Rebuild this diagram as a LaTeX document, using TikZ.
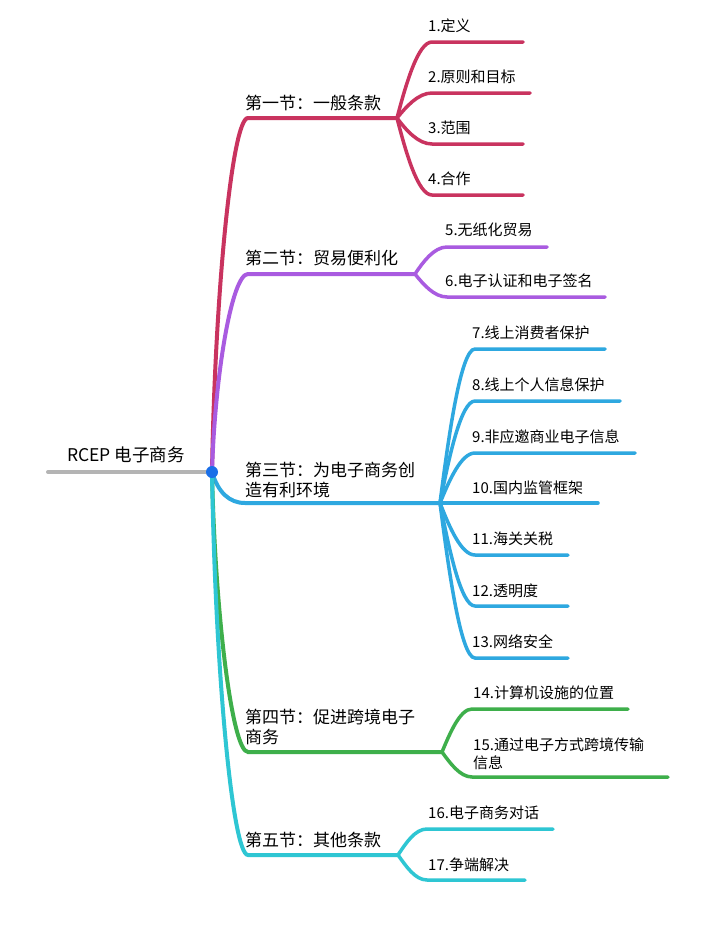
\documentclass[tikz,border=0pt]{standalone}
\usepackage{fontspec}
\setmainfont{Noto Sans CJK SC}
\usetikzlibrary{calc}

\definecolor{rojo}{HTML}{C9335F}
\definecolor{morado}{HTML}{A95BE0}
\definecolor{azul}{HTML}{2EA8E0}
\definecolor{verde}{HTML}{3EAF4B}
\definecolor{cian}{HTML}{2EC6D3}
\definecolor{gris}{HTML}{B4B4B4}
\definecolor{centro}{HTML}{1A6FE8}

\tikzset{
  rama/.style={line width=4pt, line cap=round},		%%%%	tronco de cada seccion
  hoja/.style={line width=3.5pt, line cap=round},		%%%%	lineas de los articulos
  titulo/.style={anchor=west, inner sep=0pt, align=left, font=\fontsize{17}{20}\selectfont},
  articulo/.style={anchor=west, inner sep=0pt, align=left, font=\fontsize{15}{17.5}\selectfont}
}

\begin{document}
\begin{tikzpicture}[x=1pt,y=-1pt]
\fill[white] (0,0) rectangle (710,929);
\useasboundingbox (0,0) rectangle (710,929);

%%%%%%%%%%%%%%%%%%%%%%%%%%%%%%%%%%%%%%%%%%%%%%%% 	RAIZ
\coordinate (hub) at (212,472);
\coordinate (izq) at (48,472);
\node[titulo, font=\fontsize{17.5}{20}\selectfont] (raiz) at (67,455) {RCEP 电子商务};
\draw[rama, gris] (izq) -- (hub);

%%%%%%%%%%%%%%%%%%%%%%%%%%%%%%%%%%%%%%%%%%%%%%%% 	SECCION 1
\coordinate (s1) at (248,118);	\coordinate (b1) at (397,118);
\draw[rama, rojo] (hub) .. controls +(3,-177) and +(-16,0) .. (s1) -- (b1);
\node[titulo] (t1) at (245,103) {第一节：一般条款};

\coordinate (l1) at (432,42);	\coordinate (e1) at (523,42);
\coordinate (l2) at (432,93);	\coordinate (e2) at (530,93);
\coordinate (l3) at (432,144);	\coordinate (e3) at (523,144);
\coordinate (l4) at (432,195);	\coordinate (e4) at (523,195);
\draw[hoja, rojo] (b1) .. controls +(9,-34) and +(-14,0) .. (l1) -- (e1);
\draw[hoja, rojo] (b1) .. controls +(9,-11) and +(-14,0) .. (l2) -- (e2);
\draw[hoja, rojo] (b1) .. controls +(9,12) and +(-14,0) .. (l3) -- (e3);
\draw[hoja, rojo] (b1) .. controls +(9,35) and +(-14,0) .. (l4) -- (e4);
\node[articulo] (a1) at (428,26) {1.定义};
\node[articulo] (a2) at (428,77) {2.原则和目标};
\node[articulo] (a3) at (428,128) {3.范围};
\node[articulo] (a4) at (428,179) {4.合作};

%%%%%%%%%%%%%%%%%%%%%%%%%%%%%%%%%%%%%%%%%%%%%%%% 	SECCION 2
\coordinate (s2) at (248,274);	\coordinate (b2) at (415,274);
\draw[rama, morado] (hub) .. controls +(3,-99) and +(-16,0) .. (s2) -- (b2);
\node[titulo] (t2) at (245,258) {第二节：贸易便利化};

\coordinate (l5) at (447,247);	\coordinate (e5) at (547,247);
\coordinate (l6) at (447,297);	\coordinate (e6) at (605,297);
\draw[hoja, morado] (b2) .. controls +(8,-12) and +(-13,0) .. (l5) -- (e5);
\draw[hoja, morado] (b2) .. controls +(8,10) and +(-13,0) .. (l6) -- (e6);
\node[articulo] (a5) at (445,230) {5.无纸化贸易};
\node[articulo] (a6) at (445,281) {6.电子认证和电子签名};

%%%%%%%%%%%%%%%%%%%%%%%%%%%%%%%%%%%%%%%%%%%%%%%% 	SECCION 3
\coordinate (s3) at (245,503);	\coordinate (b3) at (440,503);
\draw[rama, azul] (hub) .. controls +(6,20) and +(-16,0) .. (s3) -- (b3);
\node[titulo] (t3) at (245,480) {第三节：为电子商务创\\造有利环境};

\coordinate (l7) at (475,349);	\coordinate (e7) at (605,349);
\coordinate (l8) at (475,401);	\coordinate (e8) at (620,401);
\coordinate (l9) at (475,453);	\coordinate (e9) at (635,453);
\coordinate (l10) at (475,503);	\coordinate (e10) at (598,503);
\coordinate (l11) at (475,555);	\coordinate (e11) at (568,555);
\coordinate (l12) at (475,606);	\coordinate (e12) at (568,606);
\coordinate (l13) at (475,658);	\coordinate (e13) at (568,658);
\draw[hoja, azul] (b3) .. controls +(9,-70) and +(-14,0) .. (l7) -- (e7);
\draw[hoja, azul] (b3) .. controls +(9,-46) and +(-14,0) .. (l8) -- (e8);
\draw[hoja, azul] (b3) .. controls +(9,-22) and +(-14,0) .. (l9) -- (e9);
\draw[hoja, azul] (b3) -- (l10) -- (e10);
\draw[hoja, azul] (b3) .. controls +(9,23) and +(-14,0) .. (l11) -- (e11);
\draw[hoja, azul] (b3) .. controls +(9,46) and +(-14,0) .. (l12) -- (e12);
\draw[hoja, azul] (b3) .. controls +(9,70) and +(-14,0) .. (l13) -- (e13);
\node[articulo] (a7) at (472,333) {7.线上消费者保护};
\node[articulo] (a8) at (472,385) {8.线上个人信息保护};
\node[articulo] (a9) at (472,437) {9.非应邀商业电子信息};
\node[articulo] (a10) at (472,488) {10.国内监管框架};
\node[articulo] (a11) at (472,539) {11.海关关税};
\node[articulo] (a12) at (472,591) {12.透明度};
\node[articulo] (a13) at (472,642) {13.网络安全};

%%%%%%%%%%%%%%%%%%%%%%%%%%%%%%%%%%%%%%%%%%%%%%%% 	SECCION 4
\coordinate (s4) at (248,752);	\coordinate (b4) at (442,752);
\draw[rama, verde] (hub) .. controls +(3,140) and +(-16,0) .. (s4) -- (b4);
\node[titulo] (t4) at (245,727) {第四节：促进跨境电子\\商务};

\coordinate (l14) at (472,709);	\coordinate (e14) at (628,709);
\coordinate (l15) at (472,777);	\coordinate (e15) at (668,777);
\draw[hoja, verde] (b4) .. controls +(8,-19) and +(-12,0) .. (l14) -- (e14);
\draw[hoja, verde] (b4) .. controls +(8,11) and +(-12,0) .. (l15) -- (e15);
\node[articulo] (a14) at (473,693) {14.计算机设施的位置};
\node[articulo] (a15) at (473,754) {15.通过电子方式跨境传输\\信息};

%%%%%%%%%%%%%%%%%%%%%%%%%%%%%%%%%%%%%%%%%%%%%%%% 	SECCION 5
\coordinate (s5) at (248,855);	\coordinate (b5) at (398,855);
\draw[rama, cian] (hub) .. controls +(3,191) and +(-16,0) .. (s5) -- (b5);
\node[titulo] (t5) at (245,840) {第五节：其他条款};

\coordinate (l16) at (427,829);	\coordinate (e16) at (553,829);
\coordinate (l17) at (427,880);	\coordinate (e17) at (525,880);
\draw[hoja, cian] (b5) .. controls +(8,-12) and +(-12,0) .. (l16) -- (e16);
\draw[hoja, cian] (b5) .. controls +(8,11) and +(-12,0) .. (l17) -- (e17);
\node[articulo] (a16) at (428,813) {16.电子商务对话};
\node[articulo] (a17) at (428,865) {17.争端解决};

%%%%%%%%%%%%%%%%%%%%%%%%%%%%%%%%%%%%%%%%%%%%%%%% 	PUNTO CENTRAL
\fill[centro] (hub) circle (6);

\end{tikzpicture}
\end{document}
